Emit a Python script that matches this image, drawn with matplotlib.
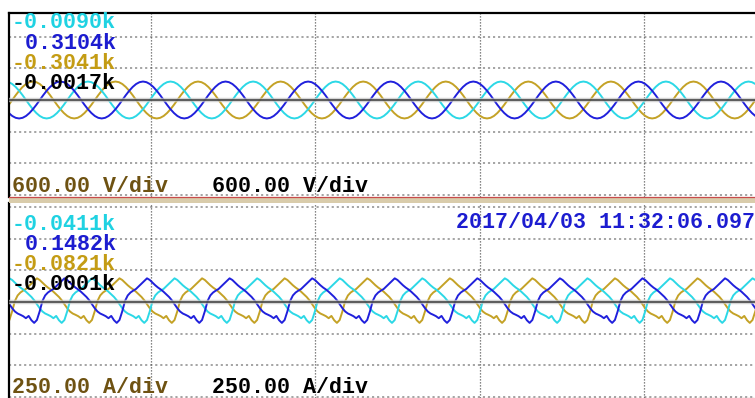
import numpy as np
import matplotlib.pyplot as plt
from matplotlib.patches import Rectangle
from matplotlib.lines import Line2D

# one period of phase samples (peak first); the other phases lag by 1/3 and 2/3 period
period_ms = 20.1
v_period = [350, 338, 303, 247, 175, 91, 0, -91, -175, -247, -303, -338,
            -350, -338, -303, -247, -175, -91, 0, 91, 175, 247, 303, 338]
i_period = [187, 174, 153, 132, 114, 99, 81, 61, 40, 14, -18, -49, -75, -91, -101,
            -112, -128, -110, -144, -165, -142, -74, 8, 52, 75, 90, 103, 124, 144, 166]
v_peak_ms = 38.05
i_peak_ms = 39.03

v_readout = ["-0.0090k", " 0.3104k", "-0.3041k", "-0.0017k"]
i_readout = ["-0.0411k", " 0.1482k", "-0.0821k", "-0.0001k"]
v_div = 600.0
i_div = 250.0
v_scale = "600.00 V/div"
i_scale = "250.00 A/div"
stamp = "2017/04/03 11:32:06.097"

trace_colors = {"cyan": "#2cd8e6", "blue": "#2020dc", "gold": "#c4a226"}
text_colors = ["#1fd2e2", "#1c1cd0", "#c49c14", "#000000"]

W, H = 755, 398
px_per_ms = 4.108
px_per_div = 31.65


def three_phase(samples, t_peak, reps=12):
    s = np.asarray(samples, float)
    n = len(s)
    t = t_peak - 2 * period_ms + np.arange(n * reps) * period_ms / n
    return t, {"blue": np.tile(s, reps),
               "cyan": np.tile(np.roll(s, n // 3), reps),
               "gold": np.tile(np.roll(s, 2 * n // 3), reps)}


def box(x0, y0, y1):
    return [x0 / W, 1 - y1 / H, 1 - x0 / W, (y1 - y0) / H]


fig = plt.figure(figsize=(W / 100, H / 100), dpi=100)
ax_v = fig.add_axes(box(9, 13, 196.5))
ax_i = fig.add_axes(box(9, 203, 398))

x_left = 40 - 142 / px_per_ms
x_right = 40 + 604 / px_per_ms

panels = [
    (ax_v, v_period, v_peak_ms, v_div, 100, 13, 196.5),
    (ax_i, i_period, i_peak_ms, i_div, 302, 203, 398),
]
for ax, samples, t_peak, div, y0, top, bottom in panels:
    per_px = div / px_per_div
    ax.set_xlim(x_left, x_right)
    ax.set_ylim(-(bottom - y0) * per_px, (y0 - top) * per_px)
    for k in (-3, -2, -1, 1, 2, 3):
        ax.axhline(k * div, color="#8c8c8c", lw=1.1, ls=(0, (1.4, 1.9)), zorder=1)
    for t in (40, 80, 120, 160):
        ax.axvline(t, color="#5e5e5e", lw=0.9, ls=(0, (1.0, 1.4)), zorder=1)
    t, waves = three_phase(samples, t_peak)
    for name in ("gold", "cyan", "blue"):
        ax.plot(t, waves[name], color=trace_colors[name], lw=1.4, zorder=2)
    ax.axhline(0, color="#c4c4c4", lw=3.2, zorder=3, alpha=0.7)
    ax.axhline(0, color="#3a3a3a", lw=1.1, zorder=3)
    ax.set_xticks([])
    ax.set_yticks([])
    for side in ("right", "bottom"):
        ax.spines[side].set_visible(False)
    ax.spines["top"].set_visible(ax is ax_v)
    ax.spines["left"].set_linewidth(1.6)
    ax.spines["top"].set_linewidth(1.6)

# separator strip between the two channels
fig.patches.append(Rectangle((9 / W, 1 - 203 / H), 1, 6.5 / H, transform=fig.transFigure,
                             facecolor="#d9ccab", edgecolor="none", zorder=5))
fig.lines.append(Line2D([9 / W, 1], [1 - 196.5 / H] * 2, transform=fig.transFigure,
                        color="#c84a4a", lw=0.9, zorder=6))
fig.lines.append(Line2D([9 / W, 1], [1 - 397.5 / H] * 2, transform=fig.transFigure,
                        color="#c87070", lw=0.9, ls=(0, (2.0, 1.6)), zorder=6))

font = dict(family="Liberation Mono", weight="bold", size=15.6)
for txt, col, base in zip(v_readout, text_colors, [28, 49, 69, 89]):
    fig.text(12 / W, 1 - base / H, txt, color=col, va="baseline", **font)
for txt, col, base in zip(i_readout, text_colors, [230, 250, 270, 290]):
    fig.text(12 / W, 1 - base / H, txt, color=col, va="baseline", **font)

fig.text(12 / W, 1 - 192 / H, v_scale, color="#6e5212", va="baseline", **font)
fig.text(212 / W, 1 - 192 / H, v_scale, color="#000000", va="baseline", **font)
fig.text(12 / W, 1 - 393 / H, i_scale, color="#6e5212", va="baseline", **font)
fig.text(212 / W, 1 - 393 / H, i_scale, color="#000000", va="baseline", **font)
fig.text(456 / W, 1 - 228 / H, stamp, color="#1c1cd0", va="baseline", **font)

fig.savefig("out.png", dpi=100)
